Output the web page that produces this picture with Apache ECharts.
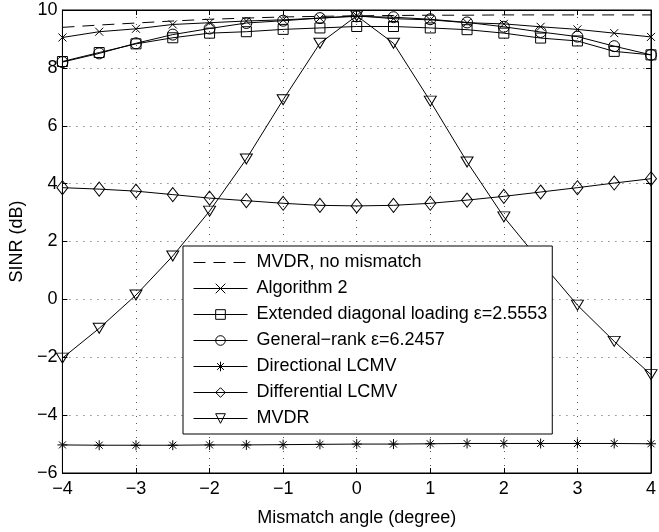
<!DOCTYPE html>
<html>
<head>
<meta charset="utf-8">
<script src="https://cdn.jsdelivr.net/npm/echarts@6/dist/echarts.min.js"></script>
<style>
  html, body { margin: 0; padding: 0; background: #fff; }
  #chart { width: 659px; height: 532px; }
</style>
</head>
<body>
<div id="chart"></div>
<script>
// Mismatch angle (degrees)
const angles = [-4, -3.5, -3, -2.5, -2, -1.5, -1, -0.5, 0, 0.5, 1, 1.5, 2, 2.5, 3, 3.5, 4];

// SINR (dB) for each beamformer
const mvdrNoMismatch = [9.40, 9.48, 9.55, 9.62, 9.68, 9.72, 9.76, 9.78, 9.80, 9.81, 9.82, 9.82, 9.83, 9.83, 9.83, 9.83, 9.83];
const algorithm2     = [9.05, 9.25, 9.35, 9.50, 9.56, 9.62, 9.66, 9.72, 9.80, 9.70, 9.66, 9.56, 9.52, 9.42, 9.33, 9.20, 9.07];
const extDiagLoading = [8.22, 8.53, 8.83, 9.04, 9.20, 9.25, 9.33, 9.38, 9.43, 9.43, 9.38, 9.32, 9.20, 9.03, 8.93, 8.57, 8.45];
const generalRank    = [8.20, 8.50, 8.85, 9.15, 9.36, 9.55, 9.63, 9.72, 9.78, 9.75, 9.68, 9.57, 9.42, 9.24, 9.08, 8.75, 8.45];
const directionalLCMV = [-5.03, -5.04, -5.04, -5.04, -5.03, -5.03, -5.02, -5.01, -5.00, -5.00, -4.99, -4.98, -4.98, -4.98, -4.98, -4.98, -4.99];
const differentialLCMV = [3.86, 3.81, 3.74, 3.62, 3.50, 3.41, 3.32, 3.25, 3.23, 3.25, 3.32, 3.43, 3.56, 3.71, 3.86, 4.02, 4.17];
const mvdr           = [-2.03, -1.00, 0.15, 1.50, 3.05, 4.85, 6.90, 8.85, 9.80, 8.85, 6.85, 4.75, 2.85, 1.30, -0.20, -1.45, -2.60];

// Axis ticks
const xTicks = { min: -4, max: 4, step: 1 };
const yTicks = { min: -6, max: 10, step: 2 };

const names = [
  'MVDR, no mismatch',
  'Algorithm 2',
  'Extended diagonal loading \u03b5=2.5553',
  'General\u2212rank \u03b5=6.2457',
  'Directional LCMV',
  'Differential LCMV',
  'MVDR'
];

const FONT = 'Liberation Sans, Arial, Helvetica, sans-serif';
const FS = 18;
const minus = v => String(v).replace('-', '\u2212');

const pair = arr => angles.map((a, i) => [a, arr[i]]);

const hollow = { color: 'rgba(0,0,0,0)', borderColor: '#000', borderWidth: 1 };
const SYM_X = 'path://M0,0L10,10M10,0L0,10';
const SYM_STAR = 'path://M5,0L5,10M0,5L10,5M1.5,1.5L8.5,8.5M8.5,1.5L1.5,8.5';

function lineSeries(name, data, symbol, size, extra) {
  return Object.assign({
    name: name,
    type: 'line',
    data: pair(data),
    symbol: symbol,
    symbolSize: size,
    showSymbol: symbol !== 'none',
    lineStyle: { color: '#000', width: 1 },
    itemStyle: hollow,
    emphasis: { disabled: true },
    animation: false,
    z: 3
  }, extra || {});
}

const chart = echarts.init(document.getElementById('chart'), null, { renderer: 'canvas' });

// The dashed reference curve has no marker, so its legend entry shows the line only
const legendData = names.map((n, i) => i === 0
  ? { name: n, itemStyle: { color: 'rgba(0,0,0,0)', borderWidth: 0, borderColor: 'rgba(0,0,0,0)' } }
  : { name: n });

chart.setOption({
  backgroundColor: '#fff',
  animation: false,
  textStyle: { fontFamily: FONT },
  grid: { left: 60, right: 6, top: 10, bottom: 53, show: true, borderColor: '#000', borderWidth: 1, backgroundColor: '#fff' },
  legend: {
    orient: 'vertical',
    left: 183,
    top: 246,
    itemWidth: 54,
    itemHeight: 12,
    itemGap: 8,
    padding: [7.5, 5, 6.5, 10],
    backgroundColor: '#fff',
    borderColor: '#000',
    borderWidth: 1,
    selectedMode: false,
    itemStyle: { borderWidth: 1 },
    lineStyle: { width: 1 },
    textStyle: { fontFamily: FONT, fontSize: FS, lineHeight: 18, color: '#000', padding: [0, 0, 0, 4] },
    data: legendData
  },
  xAxis: [{
    type: 'value',
    min: xTicks.min, max: xTicks.max, interval: xTicks.step,
    name: 'Mismatch angle (degree)',
    nameLocation: 'middle',
    nameGap: 36,
    nameTextStyle: { fontFamily: FONT, fontSize: FS, color: '#000' },
    axisLine: { show: true, onZero: false, lineStyle: { color: '#000', width: 1 } },
    axisTick: { show: true, inside: true, length: 5, lineStyle: { color: '#000' } },
    axisLabel: { fontFamily: FONT, fontSize: FS, color: '#000', margin: 7, formatter: minus },
    splitLine: { show: true, lineStyle: { color: '#555', width: 1, type: [1, 6] } }
  }, {
    type: 'value', position: 'top',
    min: xTicks.min, max: xTicks.max, interval: xTicks.step,
    axisLine: { show: true, onZero: false, lineStyle: { color: '#000', width: 1 } },
    axisTick: { show: true, inside: true, length: 5, lineStyle: { color: '#000' } },
    axisLabel: { show: false },
    splitLine: { show: false }
  }],
  yAxis: [{
    type: 'value',
    min: yTicks.min, max: yTicks.max, interval: yTicks.step,
    name: 'SINR (dB)',
    nameLocation: 'middle',
    nameGap: 19,
    nameTextStyle: { fontFamily: FONT, fontSize: FS, color: '#000' },
    axisLine: { show: true, onZero: false, lineStyle: { color: '#000', width: 1 } },
    axisTick: { show: true, inside: true, length: 5, lineStyle: { color: '#000' } },
    axisLabel: { fontFamily: FONT, fontSize: FS, color: '#000', margin: 5, formatter: minus },
    splitLine: { show: true, lineStyle: { color: '#555', width: 1, type: [1, 6] } }
  }, {
    type: 'value', position: 'right',
    min: yTicks.min, max: yTicks.max, interval: yTicks.step,
    axisLine: { show: true, onZero: false, lineStyle: { color: '#000', width: 1 } },
    axisTick: { show: true, inside: true, length: 5, lineStyle: { color: '#000' } },
    axisLabel: { show: false },
    splitLine: { show: false }
  }],
  series: [
    lineSeries(names[0], mvdrNoMismatch, 'none', 0, {
      lineStyle: { color: '#000', width: 1, type: [12, 8] },
      itemStyle: { color: 'rgba(0,0,0,0)', borderWidth: 0 }
    }),
    lineSeries(names[1], algorithm2, SYM_X, 8),
    lineSeries(names[2], extDiagLoading, 'rect', 10),
    lineSeries(names[3], generalRank, 'circle', 11),
    lineSeries(names[4], directionalLCMV, SYM_STAR, 10),
    lineSeries(names[5], differentialLCMV, 'diamond', [11, 14]),
    lineSeries(names[6], mvdr, 'triangle', [12, 10], { symbolRotate: 180 })
  ]
});
</script>
</body>
</html>
